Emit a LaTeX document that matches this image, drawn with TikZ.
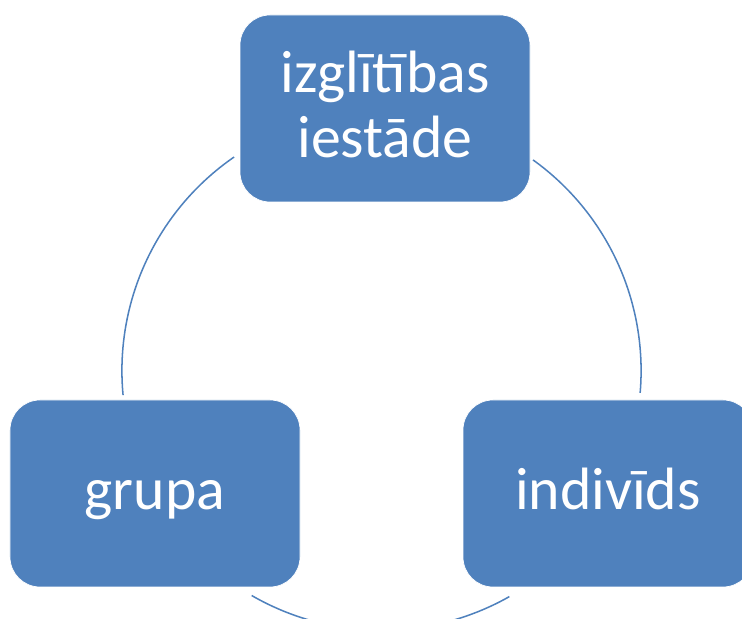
\documentclass[tikz,border=0pt]{standalone}
\usepackage{fontspec}
\setmainfont{Carlito}
\definecolor{boxblue}{HTML}{4F81BD}

\begin{document}
\begin{tikzpicture}[x=0.3mm,y=0.3mm,
	cyclebox/.style={draw=white,line width=0.6pt,fill=boxblue,rounded corners=9mm,minimum width=87mm,minimum height=56.1mm,inner sep=0,outer sep=0,text=white,font=\fontsize{51}{55.5}\selectfont,text height=13.5mm,text depth=3.6mm},
	cyclearc/.style={draw=boxblue,line width=1.3pt}]
	\useasboundingbox (0,0) rectangle (742,619);
	\clip (0,0) rectangle (742,619);
	\coordinate (c) at (381.5,248.3);
	\draw[cyclearc] (c) ++(124.6:259.6) arc[start angle=124.6,end angle=185.4,radius=259.6];
	\draw[cyclearc] (c) ++(54.3:259.6) arc[start angle=54.3,end angle=-4.9,radius=259.6];
	\draw[cyclearc] (c) ++(240:259.6) arc[start angle=240,end angle=299.5,radius=259.6];
	\node[cyclebox,align=center,text height=33mm] (iestade) at (385,510.5) {izglītības\\iestāde};
	\node[cyclebox] (grupa) at (155,125.5) {grupa};
	\node[cyclebox] (individs) at (608,125.5) {indivīds};
\end{tikzpicture}
\end{document}
